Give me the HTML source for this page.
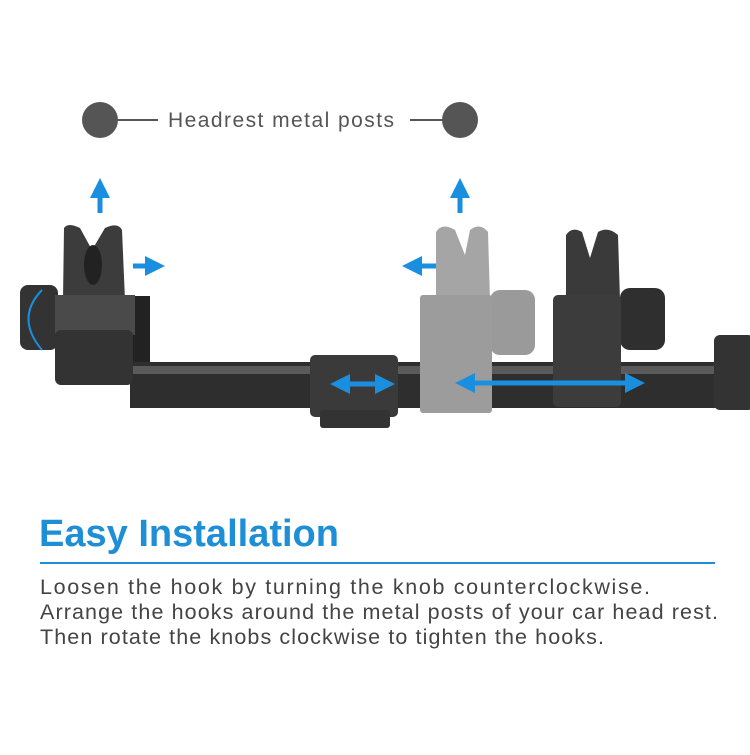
<!DOCTYPE html>
<html><head><style>
body{margin:0;background:#fff;width:750px;height:750px;overflow:hidden;font-family:"Liberation Sans",sans-serif}
</style></head><body>
<svg width="750" height="750" xmlns="http://www.w3.org/2000/svg">
<defs>
<marker id="a" markerWidth="4" markerHeight="4" refX="2" refY="2" orient="auto-start-reverse"><path d="M0,0L4,2L0,4z" fill="#1a8fe0"/></marker>
</defs>
<circle cx="100" cy="120" r="18" fill="#555"/>
<circle cx="460" cy="120" r="18" fill="#555"/>
<line x1="118" y1="120" x2="158" y2="120" stroke="#555" stroke-width="2"/>
<line x1="410" y1="120" x2="443" y2="120" stroke="#555" stroke-width="2"/>
<text x="168" y="127" font-size="21" fill="#555" textLength="226" lengthAdjust="spacing">Headrest metal posts</text>
<rect x="130" y="362" width="600" height="46" fill="#2e2e2e"/>
<rect x="130" y="366" width="600" height="8" fill="#5a5a5a"/>
<rect x="714" y="335" width="40" height="75" rx="6" fill="#333"/>
<rect x="128" y="296" width="22" height="66" fill="#222"/>
<rect x="20" y="285" width="38" height="65" rx="8" fill="#333"/>
<path d="M64,228 Q68,222 80,228 L92,250 L105,228 Q118,222 122,230 L125,300 L63,300Z" fill="#3c3c3c"/>
<ellipse cx="93" cy="265" rx="9" ry="20" fill="#222"/>
<rect x="55" y="295" width="80" height="40" fill="#4a4a4a"/>
<rect x="55" y="330" width="78" height="55" rx="6" fill="#333"/>
<rect x="310" y="355" width="88" height="62" rx="5" fill="#3a3a3a"/>
<rect x="320" y="410" width="70" height="18" rx="3" fill="#333"/>
<rect x="490" y="290" width="45" height="65" rx="10" fill="#9a9a9a"/>
<path d="M436,232 Q442,222 455,230 L465,255 L470,230 Q480,222 488,232 L490,300 L436,300Z" fill="#a5a5a5"/>
<rect x="420" y="295" width="72" height="118" rx="3" fill="#9c9c9c"/>
<rect x="620" y="288" width="45" height="62" rx="10" fill="#2f2f2f"/>
<path d="M566,235 Q572,226 582,232 L590,258 L598,232 Q608,226 618,235 L620,300 L566,300Z" fill="#3a3a3a"/>
<rect x="553" y="295" width="68" height="112" rx="5" fill="#3c3c3c"/>
<g stroke="#1a8fe0" stroke-width="5" fill="none">
<line x1="100" y1="213" x2="100" y2="188" marker-end="url(#a)"/>
<line x1="460" y1="213" x2="460" y2="188" marker-end="url(#a)"/>
<line x1="133" y1="266" x2="155" y2="266" marker-end="url(#a)"/>
<line x1="436" y1="266" x2="412" y2="266" marker-end="url(#a)"/>
<line x1="340" y1="384" x2="385" y2="384" marker-end="url(#a)" marker-start="url(#a)"/>
<line x1="465" y1="383" x2="635" y2="383" marker-end="url(#a)" marker-start="url(#a)"/>
<path d="M42,290 Q15,318 42,350" stroke-width="2"/>
</g>
<text x="39" y="546" font-size="38" font-weight="bold" fill="#1e8fd6" textLength="300" lengthAdjust="spacing">Easy Installation</text>
<line x1="40" y1="563" x2="715" y2="563" stroke="#1e8fd6" stroke-width="2"/>
<g font-size="21.5" fill="#444">
<text x="40" y="594" textLength="610" lengthAdjust="spacing">Loosen the hook by turning the knob counterclockwise.</text>
<text x="40" y="619" textLength="678" lengthAdjust="spacing">Arrange the hooks around the metal posts of your car head rest.</text>
<text x="40" y="644" textLength="564" lengthAdjust="spacing">Then rotate the knobs clockwise to tighten the hooks.</text>
</g>
</svg>
</body></html>
